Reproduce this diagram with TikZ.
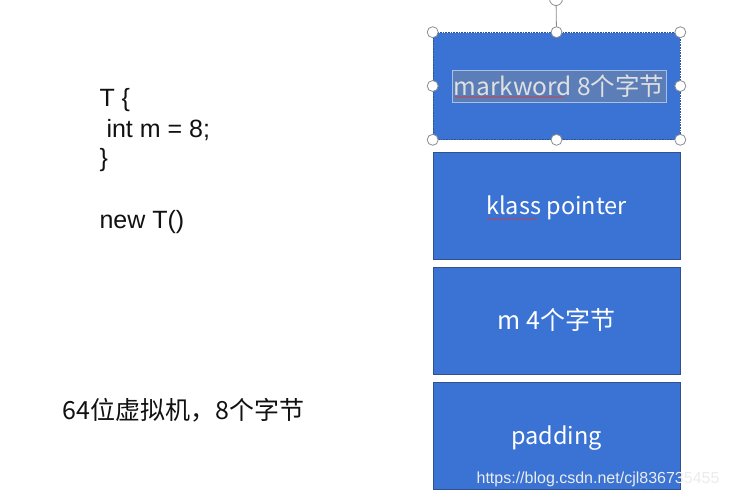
\documentclass[tikz,border=0pt]{standalone}
\usepackage{fontspec}
\setmainfont{Liberation Sans}
\newfontfamily\cjk{Noto Sans CJK SC}
\usetikzlibrary{decorations.pathmorphing}
\definecolor{slab}{HTML}{3A73D4}
\definecolor{slabline}{HTML}{2F528F}
\definecolor{selfill}{HTML}{5B7DB8}
\definecolor{selline}{HTML}{A9BFE3}
\definecolor{ink}{HTML}{111111}
\definecolor{knob}{HTML}{8C8C8C}
\definecolor{squig}{HTML}{D23C3C}
\tikzset{
  slabbox/.style={draw=slabline, fill=slab, line width=0.6pt, minimum width=247pt,
    minimum height=107pt, inner sep=0pt, text=white, text height=18pt, text depth=0pt,
    font=\cjk\fontsize{23.5}{28}\selectfont},
  seltext/.style={draw=selline, fill=selfill, line width=0.8pt, minimum width=214pt,
    minimum height=32pt, inner sep=0pt, text=white!88!black, text height=18pt, text depth=0pt,
    font=\cjk\fontsize{23.5}{28}\selectfont},
  code/.style={anchor=west, text=ink, font=\fontsize{25}{30}\selectfont},
  handle/.style={circle, draw=knob, fill=white, line width=0.8pt, minimum size=11pt, inner sep=0pt},
  spell/.style={draw=squig, line width=0.5pt, decorate,
    decoration={snake, amplitude=0.6pt, segment length=3pt}},
  wmark/.style={text=white!85!gray, font=\fontsize{16}{19}\selectfont},
}
\begin{document}
\begin{tikzpicture}[x=1pt, y=-1pt]
  \useasboundingbox[fill=white] (0,0) rectangle (730,498);
  % ---------------- code on the left ----------------
  \node[code] (decl) at (96,100) {T \{};
  \node[code] (field) at (103,130) {int m = 8;};
  \node[code] (close) at (96,160) {\}};
  \node[code] (newt) at (96,222) {new T()};
  \node[code, font=\cjk\fontsize{25}{30}\selectfont] (vm) at (59,410) {64位虚拟机，8个字节};

  % ---------------- object layout ----------------
  \node[slabbox, densely dotted] (mw) at (556.5,86) {};
  \node[slabbox] (kp) at (556.5,205.5) {klass pointer};
  \node[slabbox, font=\cjk\fontsize{25}{30}\selectfont] (fm) at (556.5,320.5) {m 4个字节};
  \node[slabbox] (pad) at (556.5,435.5) {padding};
  \node[seltext, font=\cjk\fontsize{24.5}{29}\selectfont] (mwt) at (559,86) {markword 8个字节};
  \draw[spell] (455,97) -- (564,97);
  \draw[spell] (487,219) -- (538,219);

  % selection handles of the first slab
  \coordinate (rot) at (556,-1);
  \draw[knob, line width=0.8pt] (mw.north) -- (rot);
  \node[handle, minimum size=13pt] (rk) at (rot) {};
  \foreach \a in {north west,north,north east,east,south east,south,south west,west}
    \node[handle] (h-\a) at (mw.\a) {};

  \node[wmark, anchor=east] (url) at (723,479) {https://blog.csdn.net/cjl836735455};
\end{tikzpicture}
\end{document}
